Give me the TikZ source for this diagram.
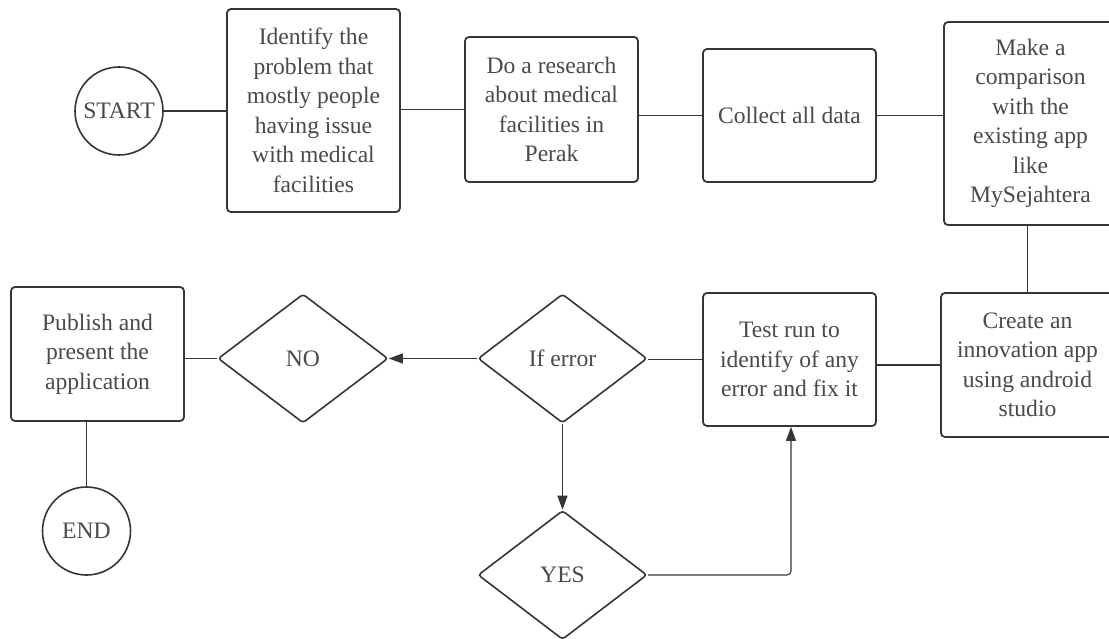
\documentclass[tikz,border=0pt]{standalone}
\usepackage{fontspec}
\setmainfont{Liberation Serif}
\usetikzlibrary{shapes.geometric,arrows.meta}
\definecolor{ln}{HTML}{33363B}
\definecolor{tx}{HTML}{4A4A4A}
\begin{document}
\begin{tikzpicture}[x=1pt,y=-1pt,
  every node/.style={font=\fontsize{23.6}{29.5}\selectfont, text=tx, align=center, inner sep=0pt},
  proc/.style={draw=ln, line width=1.8pt, rounded corners=4pt, minimum width=173pt},
  term/.style={draw=ln, line width=1.6pt, circle, minimum size=88pt},
  dec/.style={draw=ln, line width=1.6pt, diamond, rounded corners=3pt, minimum width=169pt, minimum height=129pt},
  link/.style={draw=ln, line width=1.8pt},
  arr/.style={draw=ln, line width=1.1pt, -{Triangle[length=14pt,width=10pt]}},
]
\useasboundingbox[fill=white] (0,0) rectangle (1109,639);

\node[term] (startc) at (119,111) {START};
\node[proc, minimum height=203pt] (b1) at (313.5,110.5) {Identify the\\problem that\\mostly people\\having issue\\with medical\\facilities};
\node[proc, minimum height=145pt] (b2) at (551.5,109.5) {Do a research\\about medical\\facilities in\\Perak};
\node[proc, minimum height=133pt] (b3) at (789.5,115.5) {Collect all data};
\node[proc, minimum height=203pt] (b4) at (1030.5,123.5) {Make a\\comparison\\with the\\existing app\\like\\MySejahtera};
\node[proc, minimum height=144pt] (create) at (1027.5,365) {Create an\\innovation app\\using android\\studio};
\node[proc, minimum height=133pt] (test) at (789.5,359.5) {Test run to\\identify of any\\error and fix it};
\node[dec] (iferr) at (562.5,358.5) {If error};
\node[dec] (yes) at (562.5,575) {YES};
\node[dec, minimum width=170pt] (no) at (303,358.5) {NO};
\node[proc, minimum height=134pt] (publish) at (97.5,354) {Publish and\\present the\\application};
\node[term] (endc) at (86.5,531) {END};

\draw[link] (startc.east) -- (startc.east -| b1.west);
\draw[link] (b2.west -| b1.east) -- (b2.west);
\draw[link] (b2.east |- b3.west) -- (b3.west);
\draw[link] (b3.east) -- (b3.east -| b4.west);
\draw[link] (b4.south -| create.north) -- (create.north);
\draw[link] (create.west) -- (create.west -| test.east);
\draw[link] (test.west) -- (test.west -| iferr.east);
\draw[arr] (iferr.west) -- (no.east);
\draw[link] (no.west) -- (no.west -| publish.east);
\draw[link] (endc.north |- publish.south) -- (endc.north);
\draw[arr] (iferr.south) -- (yes.north);
\draw[arr, rounded corners=4pt] (yes.east) -| ([xshift=1.5pt]test.south);
\end{tikzpicture}
\end{document}
